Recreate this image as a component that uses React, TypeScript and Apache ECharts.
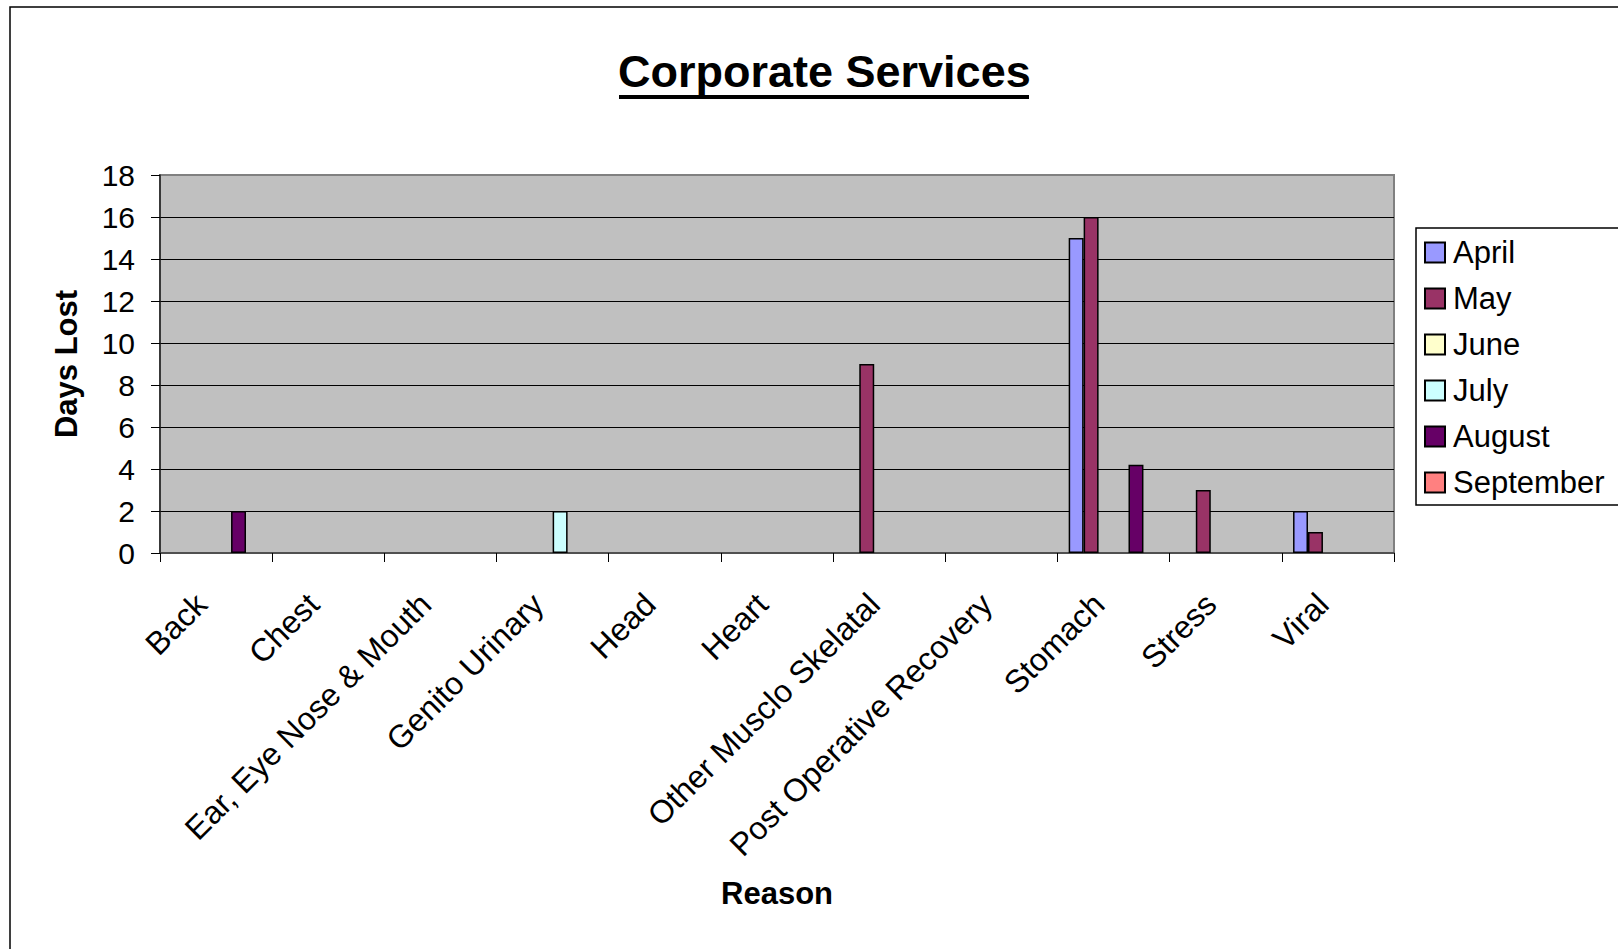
import React, { useEffect, useRef } from "react";
import * as echarts from "echarts";

const categories = [
  "Back",
  "Chest",
  "Ear, Eye Nose & Mouth",
  "Genito Urinary",
  "Head",
  "Heart",
  "Other Musclo Skelatal",
  "Post Operative Recovery",
  "Stomach",
  "Stress",
  "Viral",
];

const april = [0, 0, 0, 0, 0, 0, 0, 0, 15, 0, 2];
const may = [0, 0, 0, 0, 0, 0, 9, 0, 16, 3, 1];
const june = [0, 0, 0, 0, 0, 0, 0, 0, 0, 0, 0];
const july = [0, 0, 0, 2, 0, 0, 0, 0, 0, 0, 0];
const august = [2, 0, 0, 0, 0, 0, 0, 0, 4.2, 0, 0];
const september = [0, 0, 0, 0, 0, 0, 0, 0, 0, 0, 0];

const seriesNames = ["April", "May", "June", "July", "August", "September"];
const seriesData = [april, may, june, july, august, september];
const seriesColors = ["#9999FF", "#993366", "#FFFFCC", "#CCFFFF", "#660066", "#FF8080"];

const yTicks = { min: 0, max: 18, interval: 2 };

const FONT = "'Liberation Sans', Arial, sans-serif";

export default function App() {
  const ref = useRef<HTMLDivElement>(null);

  useEffect(() => {
    if (!ref.current) return;
    const chart = echarts.init(ref.current, undefined, { renderer: "svg" });
    const option: any = {
      animation: false,
      backgroundColor: "#FFFFFF",
      textStyle: { fontFamily: FONT },
      title: {
        text: "Corporate Services",
        left: 618,
        top: 49,
        padding: 0,
        textStyle: {
          fontFamily: FONT,
          fontSize: 45,
          fontWeight: "bold",
          color: "#000",
        },
      },
      graphic: [
        {
          type: "rect",
          silent: true,
          shape: { x: 10, y: 7, width: 2000, height: 2000 },
          style: { fill: "none", stroke: "#000", lineWidth: 1.5 },
          z: 100,
        },
        {
          type: "rect",
          silent: true,
          shape: { x: 619, y: 95, width: 410, height: 4 },
          style: { fill: "#000" },
        },
      ],
      legend: {
        orient: "vertical",
        left: 1416,
        top: 228,
        padding: [9, 80, 7, 8],
        itemWidth: 20,
        itemHeight: 20,
        itemGap: 15,
        borderColor: "#000",
        borderWidth: 1.5,
        backgroundColor: "#FFFFFF",
        icon: "rect",
        itemStyle: { borderColor: "#000", borderWidth: 2 },
        textStyle: {
          fontFamily: FONT,
          fontSize: 31,
          color: "#000",
          padding: [0, 0, 0, 3],
        },
        data: seriesNames,
      },
      grid: {
        left: 160,
        top: 175,
        right: 224,
        bottom: 396,
        show: true,
        backgroundColor: "#C0C0C0",
        borderColor: "#808080",
        borderWidth: 2,
        containLabel: false,
      },
      xAxis: {
        type: "category",
        data: categories,
        name: "Reason",
        nameLocation: "middle",
        nameGap: 325,
        nameTextStyle: {
          fontFamily: FONT,
          fontSize: 31,
          fontWeight: "bold",
          color: "#000",
        },
        axisLine: { show: true, lineStyle: { color: "#404040", width: 1.5 } },
        axisTick: { show: true, length: 9, lineStyle: { color: "#000" } },
        axisLabel: {
          rotate: 45,
          interval: 0,
          margin: 31,
          padding: [0, 21, 0, 0],
          fontFamily: FONT,
          fontSize: 32,
          color: "#000",
        },
        splitLine: { show: false },
      },
      yAxis: {
        type: "value",
        min: yTicks.min,
        max: yTicks.max,
        interval: yTicks.interval,
        name: "Days Lost",
        nameLocation: "middle",
        nameGap: 78,
        nameTextStyle: {
          fontFamily: FONT,
          fontSize: 31,
          fontWeight: "bold",
          color: "#000",
        },
        axisLine: { show: true, lineStyle: { color: "#202020", width: 1.5 } },
        axisTick: { show: true, length: 9, lineStyle: { color: "#000" } },
        axisLabel: {
          margin: 25,
          fontFamily: FONT,
          fontSize: 30,
          color: "#000",
        },
        splitLine: {
          show: true,
          showMinLine: false,
          showMaxLine: false,
          lineStyle: { color: "#000", width: 1 },
        },
      },
      series: seriesNames.map((name, i) => ({
        name,
        type: "bar",
        barGap: "0%",
        barCategoryGap: "20%",
        data: seriesData[i].map((v) => (v === 0 ? null : v)),
        itemStyle: {
          color: seriesColors[i],
          borderColor: "#000",
          borderWidth: 1.5,
        },
      })),
    };
    chart.setOption(option);
    return () => chart.dispose();
  }, []);

  return (
    <div
      ref={ref}
      style={{ position: "absolute", left: 0, top: 0, width: 1618, height: 949 }}
    />
  );
}
